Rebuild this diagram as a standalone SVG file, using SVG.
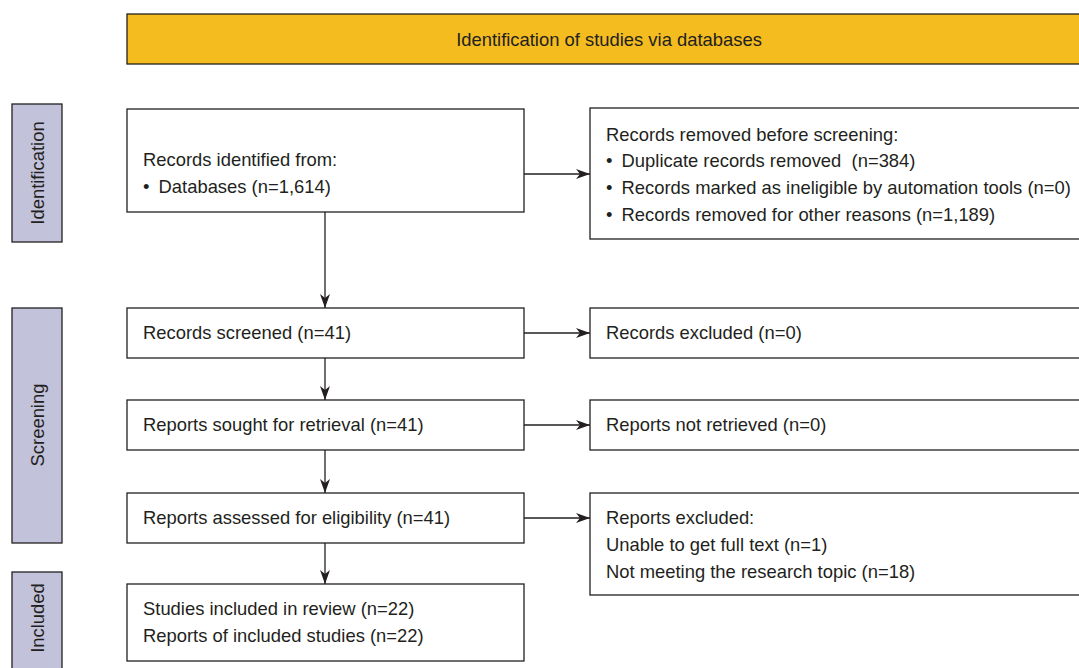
<svg xmlns="http://www.w3.org/2000/svg" width="1079" height="668" viewBox="0 0 1079 668">
<defs>
<marker id="arr" viewBox="0 0 14 10" refX="14" refY="5" markerWidth="14" markerHeight="10" markerUnits="userSpaceOnUse" orient="auto">
<path d="M0,0 L14,5 L0,10 L4,5 Z" fill="#231f20"/>
</marker>
<style>
.box{fill:#fff;stroke:#231f20;stroke-width:1.3}
.side{fill:#c2c2da;stroke:#231f20;stroke-width:1.3}
.hdr{fill:#f4bc1f;stroke:#231f20;stroke-width:1.3}
text{font-family:"Liberation Sans",Arial,sans-serif;font-size:18.4px;fill:#231f20}
.c{text-anchor:middle}
.con{stroke:#231f20;stroke-width:1.3;fill:none;marker-end:url(#arr)}
</style>
</defs>
<rect width="1079" height="668" fill="#fff"/>
<g id="header"><rect class="hdr" x="127" y="14" width="970" height="50"/><text class="c" x="609" y="46">Identification of studies via databases</text></g>
<g id="side-identification"><rect class="side" x="12" y="104" width="50" height="138"/><text class="c" transform="translate(44,173) rotate(-90)">Identification</text></g>
<g id="side-screening"><rect class="side" x="12" y="308" width="50" height="235"/><text class="c" transform="translate(44,425) rotate(-90)">Screening</text></g>
<g id="side-included"><rect class="side" x="12" y="572" width="50" height="110"/><text class="c" transform="translate(44,618) rotate(-90)">Included</text></g>
<g id="records-identified"><rect class="box" x="127" y="109" width="397" height="103"/><text x="143" y="166">Records identified from:</text><text x="143" y="193">•<tspan dx="4"> Databases (n=1,614)</tspan></text></g>
<g id="records-removed"><rect class="box" x="590" y="108" width="500" height="131"/><text x="606" y="141">Records removed before screening:</text><text x="606" y="167" xml:space="preserve">•<tspan dx="4"> Duplicate records removed  (n=384)</tspan></text><text x="606" y="194">•<tspan dx="4"> Records marked as ineligible by automation tools (n=0)</tspan></text><text x="606" y="221">•<tspan dx="4"> Records removed for other reasons (n=1,189)</tspan></text></g>
<g id="records-screened"><rect class="box" x="127" y="308" width="397" height="50"/><text x="143" y="339">Records screened (n=41)</text></g>
<g id="records-excluded"><rect class="box" x="590" y="308" width="500" height="50"/><text x="606" y="339">Records excluded (n=0)</text></g>
<g id="reports-sought"><rect class="box" x="127" y="400" width="397" height="50"/><text x="143" y="431">Reports sought for retrieval (n=41)</text></g>
<g id="reports-not-retrieved"><rect class="box" x="590" y="400" width="500" height="50"/><text x="606" y="431">Reports not retrieved (n=0)</text></g>
<g id="reports-assessed"><rect class="box" x="127" y="493" width="397" height="50"/><text x="143" y="524">Reports assessed for eligibility (n=41)</text></g>
<g id="reports-excluded"><rect class="box" x="590" y="493" width="500" height="102"/><text x="606" y="524">Reports excluded:</text><text x="606" y="551">Unable to get full text (n=1)</text><text x="606" y="578">Not meeting the research topic (n=18)</text></g>
<g id="studies-included"><rect class="box" x="127" y="584" width="397" height="77"/><text x="143" y="615">Studies included in review (n=22)</text><text x="143" y="642">Reports of included studies (n=22)</text></g>
<g id="connectors">
<line class="con" x1="325" y1="212" x2="325" y2="308"/>
<line class="con" x1="325" y1="358" x2="325" y2="400"/>
<line class="con" x1="325" y1="450" x2="325" y2="493"/>
<line class="con" x1="325" y1="543" x2="325" y2="584"/>
<line class="con" x1="524" y1="174" x2="590" y2="174"/>
<line class="con" x1="524" y1="333" x2="590" y2="333"/>
<line class="con" x1="524" y1="425" x2="590" y2="425"/>
<line class="con" x1="524" y1="518" x2="590" y2="518"/>
</g>
</svg>
